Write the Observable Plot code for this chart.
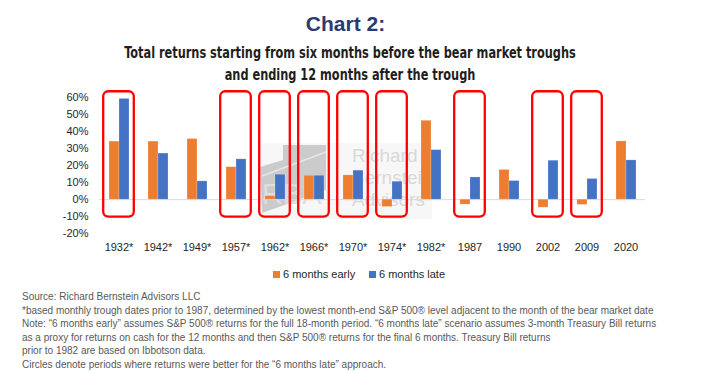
<!DOCTYPE html>
<html>
<head>
<meta charset="utf-8">
<script src="https://cdn.jsdelivr.net/npm/d3@7"></script>
<script src="https://cdn.jsdelivr.net/npm/@observablehq/plot@0.6"></script>
<style>
  html, body { margin: 0; padding: 0; background: #fff; }
  #wrap { position: relative; width: 703px; height: 373px; overflow: hidden; font-family: "Liberation Sans", Arial, sans-serif; }
  .abs { position: absolute; white-space: nowrap; }
  #title { left: 0; width: 691px; top: 12px; text-align: center; font: bold 21px/24px "Liberation Sans", Arial, sans-serif; color: #2C3A73; }
  #subtitle { left: 0; width: 700px; top: 42px; text-align: center; font: bold 15px/22px "Liberation Sans Narrow", "DejaVu Sans Condensed", sans-serif; color: #1e1e1e; transform: scaleX(0.84); transform-origin: 350px 0; }
  #chart { position: absolute; left: 0; top: 80px; }
  #legend { left: 0; top: 267px; width: 703px; font: 11px/15px "Liberation Sans", Arial, sans-serif; color: #262626; }
  #legend .item { position: absolute; top: 0; }
  #legend .sw { display: inline-block; width: 7px; height: 7px; margin-right: 3px; vertical-align: 0px; }
  #notes { left: 22px; top: 290px; font: 10px/13.6px "Liberation Sans", Arial, sans-serif; color: #595959; }
</style>
</head>
<body>
<div id="wrap">
  <svg class="abs" style="left:0;top:0" width="703" height="373" id="wm">
    <rect x="260" y="143" width="172" height="76" fill="#f7f7f7"></rect>
    <polygon points="283,145 326,145 326,190 262,213 260,167 283,160" fill="#cbcbcb"></polygon>
    <line x1="262" y1="176" x2="326" y2="152" stroke="#e6e6e6" stroke-width="1.5"></line>
    <text x="262" y="204" font-family="Liberation Sans, Arial" font-size="29" fill="#dedede">RBA</text>
    <g font-family="Liberation Sans, Arial" font-size="19" fill="#d9d9d9">
      <text x="352" y="162">Richard</text>
      <text x="352" y="184">Bernstein</text>
      <text x="352" y="206">Advisors</text>
    </g>
  </svg>
  <div id="title" class="abs">Chart 2:</div>
  <div id="subtitle" class="abs">Total returns starting from six months before the bear market troughs<br>and ending 12 months after the trough</div>
  <div id="chart"></div>
  <div id="legend" class="abs"></div>
  <div id="notes" class="abs"></div>
</div>
<script>
// ---- data ----
const years = ["1932*", "1942*", "1949*", "1957*", "1962*", "1966*", "1970*", "1974*", "1982*", "1987", "1990", "2002", "2009", "2020"];
const early = [34, 34, 35.5, 19, 2, 14, 14.2, -4.3, 46.2, -2.9, 17.4, -4.7, -3.1, 34.1];
const late = [59, 27, 10.7, 23.6, 14.6, 14, 17, 10.5, 29, 13, 10.9, 22.8, 12.1, 23];
const seriesNames = ["6 months early", "6 months late"];
const seriesColors = ["#ED7D31", "#4472C4"];
const circled = ["1932*", "1957*", "1962*", "1966*", "1970*", "1974*", "1987", "2002", "2009"];
const circleTop = [63.2];
const circleBottom = [-10.2];
const yTicks = [-20, -10, 0, 10, 20, 30, 40, 50, 60];
const notes = [
  "Source: Richard Bernstein Advisors LLC",
  "*based monthly trough dates prior to 1987, determined by the lowest month-end S&P 500\u00AE level adjacent to the month of the bear market date",
  "Note: \u201C6 months early\u201D assumes S&P 500\u00AE returns for the full 18-month period. \u201C6 months late\u201D scenario assumes 3-month Treasury Bill returns",
  "as a proxy for returns on cash for the 12 months and then S&P 500\u00AE returns for the final 6 months. Treasury Bill returns",
  "prior to 1982 are based on Ibbotson data.",
  "Circles denote periods where returns were better for the \u201C6 months late\u201D approach."
];

// ---- table ----
const table = years.flatMap((yr, i) => [
  {year: yr, series: seriesNames[0], value: early[i], first: true},
  {year: yr, series: seriesNames[1], value: late[i], first: false}
]);

const chart = Plot.plot({
  width: 703,
  height: 180,
  marginLeft: 96,
  marginRight: 56,
  marginTop: 16.7,
  marginBottom: 26.7,
  style: {fontFamily: "Liberation Sans, Arial, sans-serif", fontSize: "11px", color: "#262626", background: "transparent", overflow: "visible"},
  facet: {data: table, x: "year"},
  fx: {domain: years, padding: 0, label: null, axis: "bottom", tickSize: 0, tickPadding: 9},
  x: {domain: seriesNames, axis: null, paddingInner: 0, paddingOuter: 0.79},
  y: {domain: [-20, 60], ticks: yTicks, tickFormat: d => d + "%", tickSize: 0, tickPadding: 11, label: null},
  color: {domain: seriesNames, range: seriesColors},
  marks: [
    Plot.ruleY([0], {stroke: "#d9d9d9", strokeWidth: 1}),
    Plot.barY(table, {x: "series", y: "value", fill: "series", stroke: "#ffffff", strokeOpacity: 0.35, strokeWidth: 0.6}),
    Plot.barY(table, {
      filter: d => d.first && circled.includes(d.year),
      y1: () => circleBottom[0], y2: () => circleTop[0],
      fill: "none", stroke: "#FF0000", strokeWidth: 2.3, rx: 5, ry: 5,
      insetLeft: 4.2, insetRight: 4.2
    })
  ]
});
document.getElementById("chart").appendChild(chart);

// legend
const lg = document.getElementById("legend");
const legendLeft = [273, 369];
seriesNames.forEach((s, i) => {
  const it = document.createElement("span");
  it.className = "item";
  it.style.left = legendLeft[i] + "px";
  it.innerHTML = `<span class="sw" style="background:${seriesColors[i]}"></span>${s}`;
  lg.appendChild(it);
});

// notes
document.getElementById("notes").innerHTML = notes.map(t => t.replace(/&/g, "&amp;")).join("<br>");
</script>
</body>
</html>
